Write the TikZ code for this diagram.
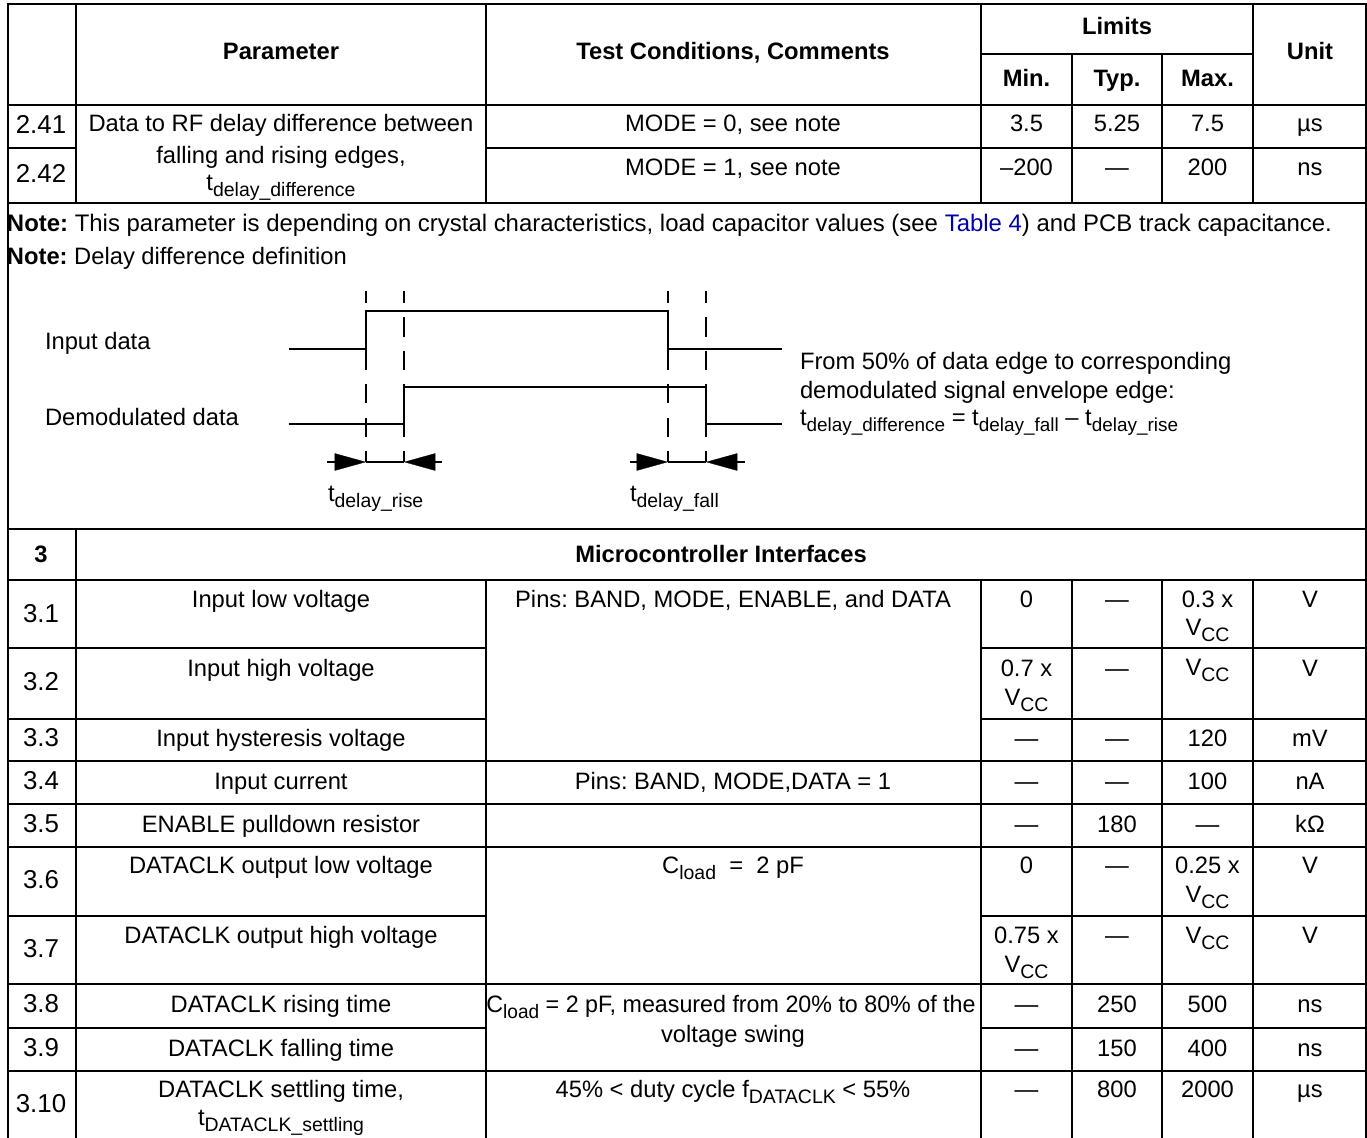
\documentclass[tikz,border=0pt]{standalone}
\usepackage{graphicx}
\usepackage{fontspec}
\setmainfont{Liberation Sans}
\frenchspacing
\usetikzlibrary{arrows.meta}
\definecolor{linkblue}{RGB}{0,0,170}
\tikzset{
  rule/.style={line width=1.35pt,black,line cap=rect},
  sig/.style={line width=1.2pt,black},
  dashseg/.style={line width=1.2pt,black},
  dim/.style={line width=1.1pt,black},
  tip/.style={line width=0.2pt,black,-{Triangle[length=23.5pt,width=13pt,fill=black]}},
  txt/.style={anchor=base,inner sep=0pt,outer sep=0pt,font=\fontsize{17.8pt}{20pt}\selectfont},
  txl/.style={anchor=base west,inner sep=0pt,outer sep=0pt,font=\fontsize{17.8pt}{20pt}\selectfont},
  bf/.style={font=\fontsize{17.8pt}{20pt}\selectfont\bfseries},
  num/.style={font=\fontsize{19.4pt}{20pt}\selectfont},
  notetxt/.style={font=\fontsize{17.95pt}{20pt}\selectfont}
}
\newcommand{\dn}[1]{\raisebox{-5.2pt}{\fontsize{14.6pt}{15pt}\selectfont #1}}
\newcommand{\dnn}[1]{\raisebox{-5pt}{\fontsize{14.2pt}{15pt}\selectfont #1}}
\newcommand{\tx}[5][]{\node[txt,#1] (#2) at (#3,#4) {#5};}
\newcommand{\tl}[5][]{\node[txl,#1] (#2) at (#3,#4) {#5};}
\begin{document}
\begin{tikzpicture}[x=0.75pt,y=-0.75pt]
\useasboundingbox (0,0) rectangle (1367,1138);
% rules
\draw[rule] (7.7,4) -- (1366,4);
\draw[rule] (7.7,4) -- (7.7,1138);
\draw[rule] (1366,4) -- (1366,1138);
\foreach \x in {76,486,981,1253} {\draw[rule] (\x,4) -- (\x,203);}
\foreach \x in {1072,1162} {\draw[rule] (\x,54) -- (\x,203);}
\draw[rule] (76,529) -- (76,1138);
\foreach \x in {486,981,1072,1162,1253} {\draw[rule] (\x,580) -- (\x,1138);}
\draw[rule] (981,54) -- (1253,54);
\foreach \y in {105,203,529,580,761,804,847,984,1071} {\draw[rule] (7.7,\y) -- (1366,\y);}
\draw[rule] (7.7,148) -- (76,148);
\draw[rule] (486,148) -- (1366,148);
\foreach \y in {648,719,916,1028} {\draw[rule] (7.7,\y) -- (486,\y); \draw[rule] (981,\y) -- (1366,\y);}
% header
\tx[bf]{hpar}{281}{60}{Parameter}
\tx[bf]{hcond}{733}{60}{Test Conditions, Comments}
\tx[bf]{hlim}{1117}{35}{Limits}
\tx[bf]{hunit}{1310}{60}{Unit}
\tx[bf]{hmin}{1026.5}{87}{Min.}
\tx[bf]{htyp}{1117}{87}{Typ.}
\tx[bf]{hmax}{1207.5}{87}{Max.}
% rows 2.41 2.42
\tx[num]{n241}{41}{133}{2.41}
\tx[num]{n242}{41}{182}{2.42}
\tx{p241a}{281}{132}{Data to RF delay difference between}
\tx{p241b}{281}{163}{falling and rising edges,}
\tx{p241c}{281}{190}{t\dn{delay\_difference}}
\tx{c241}{733}{132}{MODE = 0, see note}
\tx{c242}{733}{175}{MODE = 1, see note}
\tx{v241a}{1026.5}{132}{3.5}
\tx{v241b}{1117}{132}{5.25}
\tx{v241c}{1207.5}{132}{7.5}
\tx{v241d}{1310}{132}{µs}
\tx{v242a}{1026.5}{175}{–200}
\tx{v242b}{1117}{175}{—}
\tx{v242c}{1207.5}{175}{200}
\tx{v242d}{1310}{175}{ns}
% notes
\tl[notetxt]{note1}{7}{231}{\textbf{Note:} This parameter is depending on crystal characteristics, load capacitor values (see \textcolor{linkblue}{Table 4}) and PCB track capacitance.}
\tl{note2}{7}{264}{\textbf{Note:} Delay difference definition}
% timing diagram
\tl{lin}{45}{349}{Input data}
\tl{ldem}{45}{425}{Demodulated data}
\tl{from1}{800}{369}{From 50\% of data edge to corresponding}
\tl{from2}{800}{398}{demodulated signal envelope edge:}
\tl{from3}{800}{425}{t\dnn{delay\_difference} = t\dnn{delay\_fall} – t\dnn{delay\_rise}}
\tl{trise}{328}{501}{t\dn{delay\_rise}}
\tl{tfall}{630}{501}{t\dn{delay\_fall}}
\draw[sig] (288.6,349) -- (366,349) -- (366,311) -- (668,311) -- (668,349) -- (782,349);
\draw[sig] (288.6,424) -- (404,424) -- (404,387) -- (706,387) -- (706,424) -- (782,424);
\foreach \x in {366,668} {
  \foreach \a/\b in {291/303,349/370,384/403,418/437,451/462} {\draw[dashseg] (\x,\a) -- (\x,\b);}
}
\foreach \x in {404,706} {
  \foreach \a/\b in {291/303,317/337,351/370,384/437,451/462} {\draw[dashseg] (\x,\a) -- (\x,\b);}
}
\foreach \l/\r in {366/404,668/706} {\draw[dim] (\l,462) -- (\r,462);}
\draw[dim] (327,462) -- (340,462);
\draw[dim] (430,462) -- (442,462);
\draw[dim] (630,462) -- (642,462);
\draw[dim] (732,462) -- (745,462);
\draw[tip] (335,462) -- (366,462);
\draw[tip] (435,462) -- (404,462);
\draw[tip] (637,462) -- (668,462);
\draw[tip] (737,462) -- (706,462);
% section 3
\tx[bf]{n3}{41}{562}{3}
\tx[bf]{s3}{721}{562}{Microcontroller Interfaces}
% numbers
\tx[num]{n31}{41}{622}{3.1}
\tx[num]{n32}{41}{690}{3.2}
\tx[num]{n33}{41}{746}{3.3}
\tx[num]{n34}{41}{789}{3.4}
\tx[num]{n35}{41}{832}{3.5}
\tx[num]{n36}{41}{888}{3.6}
\tx[num]{n37}{41}{957}{3.7}
\tx[num]{n38}{41}{1012}{3.8}
\tx[num]{n39}{41}{1056}{3.9}
\tx[num]{n310}{41}{1112}{3.10}
% parameters
\tx{p31}{281}{607}{Input low voltage}
\tx{p32}{281}{676}{Input high voltage}
\tx{p33}{281}{746}{Input hysteresis voltage}
\tx{p34}{281}{789}{Input current}
\tx{p35}{281}{832}{ENABLE pulldown resistor}
\tx{p36}{281}{873}{DATACLK output low voltage}
\tx{p37}{281}{943}{DATACLK output high voltage}
\tx{p38}{281}{1012}{DATACLK rising time}
\tx{p39}{281}{1056}{DATACLK falling time}
\tx{p310a}{281}{1097}{DATACLK settling time,}
\tx{p310b}{281}{1125}{t\dn{DATACLK\_settling}}
% conditions
\tx{c31}{733}{607}{Pins: BAND, MODE, ENABLE, and DATA}
\tx{c34}{733}{789}{Pins: BAND, MODE,DATA = 1}
\tx{c36}{733}{873}{C\dn{load}~ = ~2 pF}
\tx{c38}{731}{1012}{\scalebox{0.98}[1]{C\dn{load} = 2 pF, measured from 20\% to 80\% of the}}
\tx{c38b}{733}{1042}{voltage swing}
\tx{c310}{733}{1097}{45\% < duty cycle f\dn{DATACLK} < 55\%}
% limits
\tx{a31}{1026.5}{607}{0}\tx{b31}{1117}{607}{—}\tx{m31}{1207.5}{607}{0.3 x}\tx{m31b}{1207.5}{635}{V\dn{CC}}\tx{u31}{1310}{607}{V}
\tx{a32}{1026.5}{676}{0.7 x}\tx{a32b}{1026.5}{705}{V\dn{CC}}\tx{b32}{1117}{676}{—}\tx{m32}{1207.5}{675}{V\dn{CC}}\tx{u32}{1310}{676}{V}
\tx{a33}{1026.5}{746}{—}\tx{b33}{1117}{746}{—}\tx{m33}{1207.5}{746}{120}\tx{u33}{1310}{746}{mV}
\tx{a34}{1026.5}{789}{—}\tx{b34}{1117}{789}{—}\tx{m34}{1207.5}{789}{100}\tx{u34}{1310}{789}{nA}
\tx{a35}{1026.5}{832}{—}\tx{b35}{1117}{832}{180}\tx{m35}{1207.5}{832}{—}\tx{u35}{1310}{832}{kΩ}
\tx{a36}{1026.5}{873}{0}\tx{b36}{1117}{873}{—}\tx{m36}{1207.5}{873}{0.25 x}\tx{m36b}{1207.5}{902}{V\dn{CC}}\tx{u36}{1310}{873}{V}
\tx{a37}{1026.5}{943}{0.75 x}\tx{a37b}{1026.5}{972}{V\dn{CC}}\tx{b37}{1117}{943}{—}\tx{m37}{1207.5}{943}{V\dn{CC}}\tx{u37}{1310}{943}{V}
\tx{a38}{1026.5}{1012}{—}\tx{b38}{1117}{1012}{250}\tx{m38}{1207.5}{1012}{500}\tx{u38}{1310}{1012}{ns}
\tx{a39}{1026.5}{1056}{—}\tx{b39}{1117}{1056}{150}\tx{m39}{1207.5}{1056}{400}\tx{u39}{1310}{1056}{ns}
\tx{a310}{1026.5}{1097}{—}\tx{b310}{1117}{1097}{800}\tx{m310}{1207.5}{1097}{2000}\tx{u310}{1310}{1097}{µs}
\end{tikzpicture}
\end{document}
